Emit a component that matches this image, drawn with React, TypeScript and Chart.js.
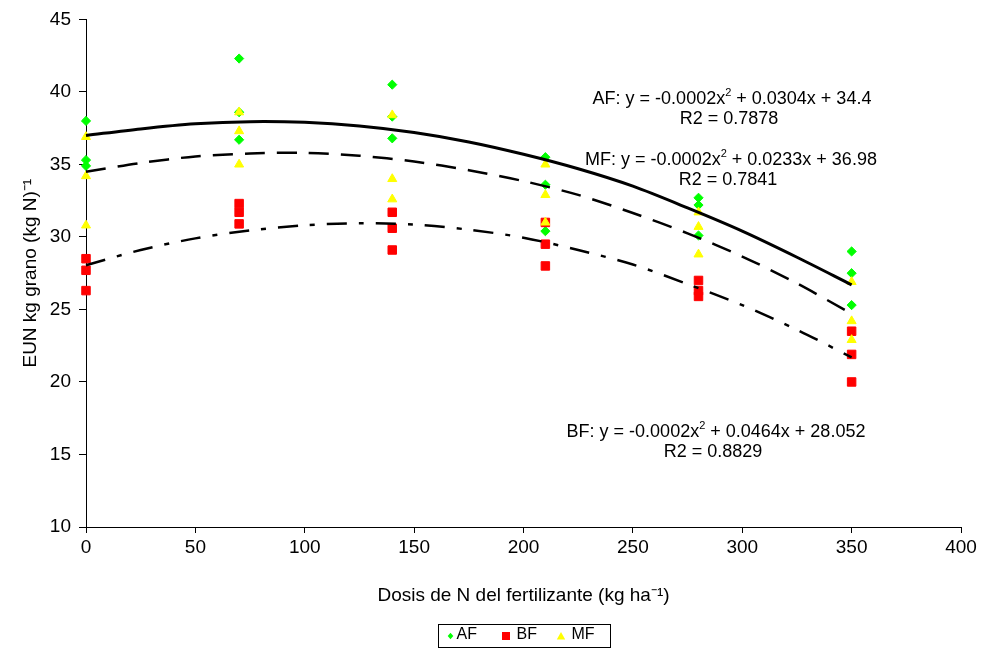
import React, { useEffect, useRef } from 'react';
import { Chart, registerables } from 'chart.js';

Chart.register(...registerables);

// ---------- data ----------
const SERIES_NAMES = ['AF', 'BF', 'MF'];
const SERIES_COLORS = ['#00FF00', '#FF0000', '#FFFF00'];
const DOSES = [0, 70, 140, 210, 280, 350];

const AF_VALUES = [
  [38.0, 35.3, 34.9],
  [42.3, 38.6, 36.7],
  [40.5, 38.3, 36.8],
  [35.5, 33.6, 30.4],
  [32.7, 32.2, 30.1],
  [29.0, 27.5, 25.3],
];
const BF_VALUES = [
  [28.5, 27.7, 26.3],
  [32.3, 31.7, 30.9],
  [31.7, 30.6, 29.1],
  [31.0, 29.5, 28.0],
  [27.0, 26.3, 25.9],
  [23.5, 21.9, 20.0],
];
const MF_VALUES = [
  [36.9, 34.2, 30.8],
  [38.6, 37.3, 35.0],
  [38.4, 34.0, 32.6],
  [35.0, 32.9, 31.0],
  [31.7, 30.7, 28.8],
  [26.9, 24.2, 22.9],
];

// trend curves
const TREND_X = [0, 25, 50, 75, 100, 125, 150, 175, 200, 225, 250, 275, 300, 325, 350];
const AF_TREND = [37.0, 37.45, 37.8, 37.95, 37.9, 37.65, 37.2, 36.55, 35.7, 34.7, 33.5, 32.0, 30.4, 28.6, 26.7];
const MF_TREND = [34.5, 35.1, 35.55, 35.75, 35.8, 35.6, 35.2, 34.6, 33.85, 32.9, 31.65, 30.25, 28.65, 26.8, 24.7];
const BF_TREND = [28.05, 29.1, 29.9, 30.45, 30.8, 30.95, 30.85, 30.5, 29.95, 29.1, 28.1, 26.75, 25.3, 23.6, 21.7];

// equations shown on the chart
const EQ_NAMES = ['AF', 'MF', 'BF'];
const EQ_A = ['-0.0002', '-0.0002', '-0.0002'];
const EQ_B = ['0.0304', '0.0233', '0.0464'];
const EQ_C = ['34.4', '36.98', '28.052'];
const EQ_R2 = ['0.7878', '0.7841', '0.8829'];

const X_MIN = 0;
const X_MAX = 400;
const X_STEP = 50;
const Y_MIN = 10;
const Y_MAX = 45;
const Y_STEP = 5;
const X_TITLE = 'Dosis de N del fertilizante (kg ha\u207B\u00B9)';
const Y_TITLE = 'EUN kg grano (kg N)\u207B\u00B9';

// ---------- styles ----------
const FONT = '"Liberation Sans", Arial, Helvetica, sans-serif';

const toPoints = (vals: number[][]) =>
  DOSES.flatMap((d, i) => vals[i].map((v) => ({ x: d, y: v })));
const toCurve = (vals: number[]) => TREND_X.map((x, i) => ({ x, y: vals[i] }));

type Part = { t: string; sup?: boolean };
function drawRich(ctx: CanvasRenderingContext2D, parts: Part[], cx: number, baseY: number, size: number) {
  const base = `${size}px ${FONT}`;
  const small = `${Math.round(size * 0.62)}px ${FONT}`;
  const widths = parts.map((p) => {
    ctx.font = p.sup ? small : base;
    return ctx.measureText(p.t).width;
  });
  const total = widths.reduce((a, b) => a + b, 0);
  let x = cx - total / 2;
  ctx.textAlign = 'left';
  ctx.textBaseline = 'alphabetic';
  parts.forEach((p, i) => {
    ctx.font = p.sup ? small : base;
    ctx.fillText(p.t, x, p.sup ? baseY - size * 0.4 : baseY);
    x += widths[i];
  });
}

const EQ_POS: [number, number][] = [
  [732, 103.5],
  [731, 164.5],
  [716, 436.5],
];

const annotationPlugin = {
  id: 'annotationsAndLegend',
  afterDraw(chart: any) {
    const ctx: CanvasRenderingContext2D = chart.ctx;
    ctx.save();
    ctx.fillStyle = '#000';
    EQ_NAMES.forEach((name, i) => {
      const [cx, by] = EQ_POS[i];
      drawRich(
        ctx,
        [
          { t: `${name}: y = ${EQ_A[i]}x` },
          { t: '2', sup: true },
          { t: ` + ${EQ_B[i]}x + ${EQ_C[i]}` },
        ],
        cx,
        by,
        18
      );
      drawRich(ctx, [{ t: `R2 = ${EQ_R2[i]}` }], cx - 3, by + 20.5, 18);
    });

    // legend box
    const lx = 438;
    const ly = 624;
    const lw = 172;
    const lh = 23;
    ctx.strokeStyle = '#000';
    ctx.lineWidth = 1;
    ctx.strokeRect(lx + 0.5, ly + 0.5, lw, lh);
    const my = 636;
    const markerX = [450.5, 506, 561];
    const textX = [456.5, 516.5, 571.5];
    ctx.font = `16px ${FONT}`;
    ctx.textBaseline = 'middle';
    ctx.textAlign = 'left';
    SERIES_NAMES.forEach((name, i) => {
      ctx.fillStyle = SERIES_COLORS[i];
      const x = markerX[i];
      ctx.beginPath();
      if (i === 0) {
        ctx.moveTo(x, my - 3.2);
        ctx.lineTo(x + 2.8, my);
        ctx.lineTo(x, my + 3.2);
        ctx.lineTo(x - 2.8, my);
        ctx.closePath();
      } else if (i === 1) {
        ctx.rect(x - 4, my - 4, 8, 8);
      } else {
        ctx.moveTo(x, my - 4);
        ctx.lineTo(x + 4.2, my + 3.5);
        ctx.lineTo(x - 4.2, my + 3.5);
        ctx.closePath();
      }
      ctx.fill();
      ctx.fillStyle = '#000';
      ctx.fillText(name, textX[i], my - 1);
    });
    ctx.restore();
  },
};

export default function App() {
  const ref = useRef<HTMLCanvasElement>(null);

  useEffect(() => {
    const canvas = ref.current;
    if (!canvas) return;
    const tickFont = { size: 19, family: FONT };
    const seriesVals = [AF_VALUES, BF_VALUES, MF_VALUES];
    const shapes = ['rectRot', 'rect', 'triangle'];
    const radii = [4.6, 6.0, 5.2];

    const scatterSets = SERIES_NAMES.map((name, i) => ({
      label: name,
      data: toPoints(seriesVals[i]),
      pointStyle: shapes[i],
      pointRadius: radii[i],
      pointBackgroundColor: SERIES_COLORS[i],
      pointBorderColor: SERIES_COLORS[i],
      pointBorderWidth: 1,
      showLine: false,
      clip: false as any,
      order: 3 - i,
    }));

    const curveDefs = [
      { label: 'AF trend', data: AF_TREND, dash: [] as number[], width: 3 },
      { label: 'MF trend', data: MF_TREND, dash: [20, 12], width: 2.5 },
      { label: 'BF trend', data: BF_TREND, dash: [20, 12, 5, 12], width: 2.5 },
    ];
    const curveSets = curveDefs.map((c) => ({
      label: c.label,
      data: toCurve(c.data),
      showLine: true,
      borderColor: '#000',
      backgroundColor: '#000',
      borderWidth: c.width,
      borderDash: c.dash,
      tension: 0.3,
      pointRadius: 0,
      fill: false,
      clip: false as any,
      order: 0,
    }));

    const chart = new Chart(canvas, {
      type: 'scatter',
      data: { datasets: [...scatterSets, ...curveSets] as any },
      options: {
        animation: false,
        responsive: false,
        devicePixelRatio: 1,
        layout: { padding: { top: 15, right: 21, left: 0, bottom: 0 } },
        plugins: {
          legend: { display: false },
          tooltip: { enabled: false },
        },
        scales: {
          x: {
            type: 'linear',
            min: X_MIN,
            max: X_MAX,
            ticks: { stepSize: X_STEP, color: '#000', font: tickFont, padding: 3, maxRotation: 0 },
            grid: { drawOnChartArea: false, drawTicks: true, tickLength: 6, color: '#000' },
            border: { color: '#000', width: 1 },
            title: {
              display: true,
              text: X_TITLE,
              color: '#000',
              font: { size: 19, family: FONT },
              padding: { top: 0, bottom: 46 },
            },
            afterFit: (s: any) => {
              s.height = 126;
            },
          },
          y: {
            type: 'linear',
            min: Y_MIN,
            max: Y_MAX,
            ticks: { stepSize: Y_STEP, color: '#000', font: tickFont, padding: 8 },
            grid: { drawOnChartArea: false, drawTicks: true, tickLength: 7, color: '#000' },
            border: { color: '#000', width: 1 },
            title: {
              display: true,
              text: Y_TITLE,
              color: '#000',
              font: { size: 19, family: FONT },
              padding: { top: 19, bottom: 0 },
            },
            afterFit: (s: any) => {
              s.width = 86;
            },
          },
        },
      },
      plugins: [annotationPlugin],
    });
    return () => chart.destroy();
  }, []);

  return (
    <div style={{ position: 'absolute', left: 0, top: 0, width: 982, height: 653, background: '#fff' }}>
      <canvas ref={ref} width={982} height={653} style={{ display: 'block' }} />
    </div>
  );
}
